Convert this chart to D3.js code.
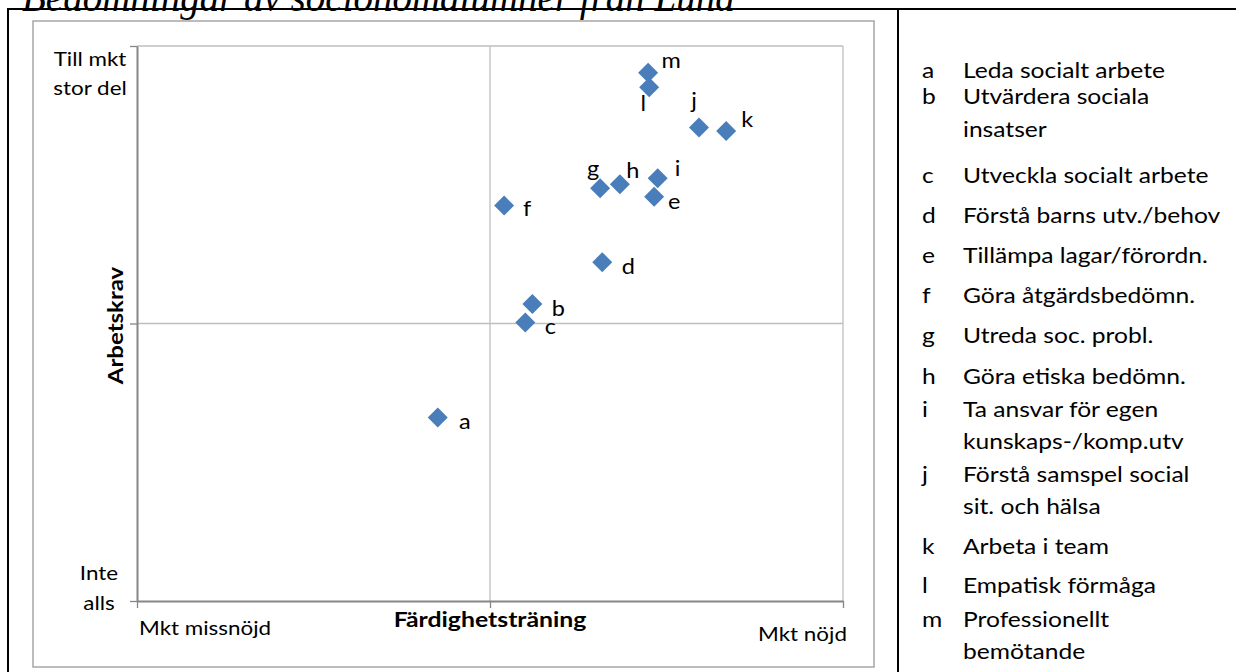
<!DOCTYPE html>
<html><head><meta charset="utf-8">
<script src="https://cdn.jsdelivr.net/npm/d3@7"></script>
<style>body{margin:0;background:#fff}svg{display:block}</style>
</head><body><svg id="c" width="1236" height="672"></svg>
<script>
// ---------- data ----------
const titleText = "Bedömningar av socionomalumner från Lund";
const pointKeys = ["a","b","c","d","e","f","g","h","i","j","k","l","m"];
const xValues = [-0.148, 0.120, 0.100, 0.318, 0.465, 0.040, 0.312, 0.368, 0.475, 0.592, 0.669, 0.451, 0.448];
const yValues = [-0.339, 0.070, 0.004, 0.221, 0.457, 0.425, 0.487, 0.502, 0.523, 0.706, 0.694, 0.851, 0.904];
const xTickValues = [-1, 0, 1];
const yTickValues = [-1, 0, 1];
const xTickLabels = ["Mkt missnöjd", "", "Mkt nöjd"];
const yTickLabels = [["Inte", "alls"], [], ["Till mkt", "stor del"]];
const xTitle = "Färdighetsträning";
const yTitle = "Arbetskrav";
const legendTexts = [
  ["Leda socialt arbete"],
  ["Utvärdera sociala", "insatser"],
  ["Utveckla socialt arbete"],
  ["Förstå barns utv./behov"],
  ["Tillämpa lagar/förordn."],
  ["Göra åtgärdsbedömn."],
  ["Utreda soc. probl."],
  ["Göra etiska bedömn."],
  ["Ta ansvar för egen", "kunskaps-/komp.utv"],
  ["Förstå samspel social", "sit. och hälsa"],
  ["Arbeta i team"],
  ["Empatisk förmåga"],
  ["Professionellt", "bemötande"]
];

// ---------- layout (not data) ----------
const labelOffsets = [[27,11],[26,12],[25,12],[26,12],[20,12],[23,10],[-7,-12],[13,-6],[20,-2],[-5,-20],[21,-4],[-6,24],[23,-5]];
const legendBaselines = [78,104.3,183.3,223.3,263.3,303.3,343.3,384.3,416.7,481.7,554.3,593.3,626.7];
const legendLineGap = 32.5;
const FONT = "Lato, 'Open Sans', sans-serif";

const svg = d3.select("#c");
const W = 1236, H = 672;

function txt(parent, x, y, s, o = {}) {
  const t = parent.append("text")
    .attr("transform", `translate(${x},${y})${o.rot ? ` rotate(${o.rot})` : ""} scale(${o.sx || 1},1)`)
    .attr("text-anchor", o.anchor || "start")
    .attr("font-family", o.family || FONT)
    .attr("font-size", o.size || 20)
    .attr("fill", "#000")
    .text(s);
  if (o.bold) t.attr("font-weight", "bold");
  if (o.italic) t.attr("font-style", "italic");
  return t;
}

// title (clipped at top)
txt(svg, 22, 11, titleText, {family: "'Liberation Serif', 'Times New Roman', serif", italic: true, size: 39});

// document frame (black)
const frame = svg.append("g").attr("stroke", "#000").attr("stroke-width", 2);
frame.append("line").attr("x1", 7).attr("x2", W).attr("y1", 9).attr("y2", 9);
frame.append("line").attr("x1", 8).attr("x2", 8).attr("y1", 8).attr("y2", H);
frame.append("line").attr("x1", 898).attr("x2", 898).attr("y1", 8).attr("y2", H);

// chart border
svg.append("rect").attr("x", 33).attr("y", 21).attr("width", 841).attr("height", 646)
  .attr("fill", "none").attr("stroke", "#a6a6a6").attr("stroke-width", 1.5);

// scales
const x = d3.scaleLinear().domain([-1, 1]).range([137, 843]);
const y = d3.scaleLinear().domain([-1, 1]).range([601, 46]);

// gridlines
const grid = svg.append("g").attr("stroke", "#bfbfbf").attr("stroke-width", 1.3);
grid.selectAll(".gv").data(xTickValues.slice(1)).join("line")
  .attr("x1", d => x(d)).attr("x2", d => x(d)).attr("y1", y(-1)).attr("y2", y(1));
grid.selectAll(".gh").data(yTickValues.slice(1)).join("line")
  .attr("y1", d => y(d)).attr("y2", d => y(d)).attr("x1", x(-1)).attr("x2", x(1));

// axes
const axisColor = "#868686";
const gx = svg.append("g").attr("transform", `translate(0,${y(-1)})`)
  .call(d3.axisBottom(x).tickValues(xTickValues).tickSize(7).tickSizeOuter(0).tickFormat(""));
const gy = svg.append("g").attr("transform", `translate(${x(-1)},0)`)
  .call(d3.axisLeft(y).tickValues(yTickValues).tickSize(7).tickSizeOuter(0).tickFormat(""));
[gx, gy].forEach(g => {
  g.select(".domain").attr("stroke", axisColor).attr("stroke-width", 2);
  g.selectAll(".tick line").attr("stroke", axisColor).attr("stroke-width", 1.3);
});

// y tick labels
const yLabelLayout = [{cx: 99, dy: [-21, 9]}, null, {cx: 90, dy: [20, 49]}];
yTickValues.forEach((v, i) => {
  const lines = yTickLabels[i];
  if (!lines.length) return;
  const L = yLabelLayout[i];
  lines.forEach((t, j) => txt(svg, L.cx, y(v) + L.dy[j], t, {anchor: "middle", size: 19.5, sx: 1.15}));
});

// x tick labels
const xLabelLayout = [{dx: 2, y: 635, anchor: "start"}, null, {dx: 4, y: 641, anchor: "end"}];
xTickValues.forEach((v, i) => {
  if (!xTickLabels[i]) return;
  const L = xLabelLayout[i];
  txt(svg, x(v) + L.dx, L.y, xTickLabels[i], {anchor: L.anchor, size: 19.5, sx: 1.15});
});

// axis titles
txt(svg, x(0), 627, xTitle, {anchor: "middle", bold: true, size: 20, sx: 1.24});
txt(svg, 123, y(0) + 2, yTitle, {anchor: "middle", bold: true, size: 20, sx: 1.2, rot: -90});

// points
const pts = pointKeys.map((k, i) => ({k, xv: xValues[i], yv: yValues[i], off: labelOffsets[i]}));
const R = 10;
svg.append("g").selectAll("path").data(pts).join("path")
  .attr("d", d => {
    const cx = x(d.xv), cy = y(d.yv);
    return `M${cx},${cy - R}L${cx + R},${cy}L${cx},${cy + R}L${cx - R},${cy}Z`;
  })
  .attr("fill", "#4a7ebb");

const lblG = svg.append("g");
pts.forEach(d => txt(lblG, x(d.xv) + d.off[0], y(d.yv) + d.off[1], d.k, {anchor: "middle", size: 21, sx: 1.12}));

// legend (table column)
const lg = svg.append("g");
pointKeys.forEach((k, i) => {
  const b = legendBaselines[i];
  txt(lg, 922, b, k, {size: 20.5, sx: 1.2});
  legendTexts[i].forEach((t, j) => txt(lg, 963, b + j * legendLineGap, t, {size: 20.5, sx: 1.2}));
});
</script>
</body></html>
